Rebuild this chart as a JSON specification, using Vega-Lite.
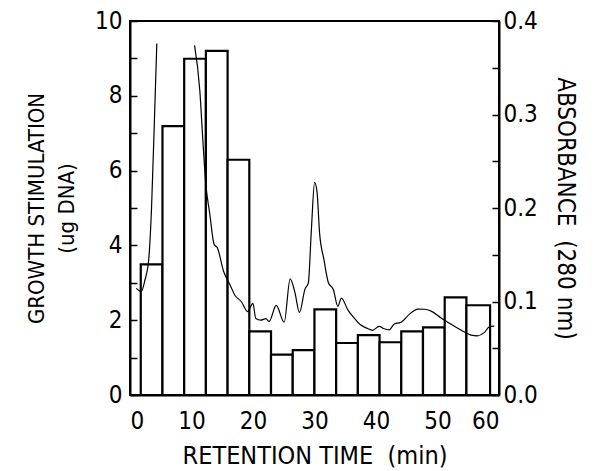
{
  "$schema": "https://vega.github.io/schema/vega-lite/v6.json",
  "autosize": {"type": "none"},
  "width": 369,
  "height": 374,
  "padding": {"left": 130, "top": 21, "right": 96, "bottom": 76},
  "background": "white",
  "config": {
    "view": {"stroke": "black", "strokeWidth": 2},
    "axis": {
      "labelFont": "DejaVu Sans Condensed, DejaVu Sans, sans-serif",
      "titleFont": "DejaVu Sans Condensed, DejaVu Sans, sans-serif",
      "labelFontSize": 24,
      "titleFontSize": 25,
      "titleFontWeight": "normal",
      "labelColor": "black",
      "titleColor": "black",
      "domainColor": "black",
      "domainWidth": 2,
      "tickColor": "black",
      "tickWidth": 1.5,
      "grid": false
    }
  },
  "datasets": {
    "bars": [
      {"start": 1.75, "end": 5.28, "growth": 3.49},
      {"start": 5.28, "end": 8.81, "growth": 7.19},
      {"start": 8.81, "end": 12.34, "growth": 8.99},
      {"start": 12.34, "end": 15.87, "growth": 9.2},
      {"start": 15.87, "end": 19.4, "growth": 6.29},
      {"start": 19.4, "end": 22.93, "growth": 1.7},
      {"start": 22.93, "end": 26.46, "growth": 1.08},
      {"start": 26.46, "end": 29.99, "growth": 1.2},
      {"start": 29.99, "end": 33.52, "growth": 2.29},
      {"start": 33.52, "end": 37.05, "growth": 1.39},
      {"start": 37.05, "end": 40.58, "growth": 1.6},
      {"start": 40.58, "end": 44.11, "growth": 1.41},
      {"start": 44.11, "end": 47.64, "growth": 1.7},
      {"start": 47.64, "end": 51.17, "growth": 1.81},
      {"start": 51.17, "end": 54.7, "growth": 2.61},
      {"start": 54.7, "end": 58.55, "growth": 2.4}
    ],
    "trace": [
      {"t": 1.04, "abs": 0.114, "seg": 1},
      {"t": 1.84, "abs": 0.1105, "seg": 1},
      {"t": 2.43, "abs": 0.123, "seg": 1},
      {"t": 3.04, "abs": 0.1446, "seg": 1},
      {"t": 3.51, "abs": 0.2014, "seg": 1},
      {"t": 4.04, "abs": 0.3085, "seg": 1},
      {"t": 4.36, "abs": 0.376, "seg": 1},
      {"t": 10.5, "abs": 0.374, "seg": 2},
      {"t": 11.35, "abs": 0.3257, "seg": 2},
      {"t": 11.85, "abs": 0.272, "seg": 2},
      {"t": 12.28, "abs": 0.229, "seg": 2},
      {"t": 12.98, "abs": 0.1933, "seg": 2},
      {"t": 13.68, "abs": 0.161, "seg": 2},
      {"t": 14.2, "abs": 0.1575, "seg": 2},
      {"t": 15.21, "abs": 0.1324, "seg": 2},
      {"t": 16.25, "abs": 0.118, "seg": 2},
      {"t": 17.03, "abs": 0.107, "seg": 2},
      {"t": 18.08, "abs": 0.1, "seg": 2},
      {"t": 19.14, "abs": 0.0892, "seg": 2},
      {"t": 19.98, "abs": 0.098, "seg": 2},
      {"t": 20.46, "abs": 0.0818, "seg": 2},
      {"t": 21.27, "abs": 0.08, "seg": 2},
      {"t": 22.09, "abs": 0.0817, "seg": 2},
      {"t": 22.63, "abs": 0.0787, "seg": 2},
      {"t": 23.77, "abs": 0.0958, "seg": 2},
      {"t": 25.07, "abs": 0.0778, "seg": 2},
      {"t": 26.04, "abs": 0.1242, "seg": 2},
      {"t": 26.81, "abs": 0.1098, "seg": 2},
      {"t": 27.55, "abs": 0.0883, "seg": 2},
      {"t": 28.45, "abs": 0.1132, "seg": 2},
      {"t": 29.0, "abs": 0.12, "seg": 2},
      {"t": 29.47, "abs": 0.1739, "seg": 2},
      {"t": 30.02, "abs": 0.2274, "seg": 2},
      {"t": 30.42, "abs": 0.2166, "seg": 2},
      {"t": 30.82, "abs": 0.1737, "seg": 2},
      {"t": 31.53, "abs": 0.145, "seg": 2},
      {"t": 32.26, "abs": 0.12, "seg": 2},
      {"t": 33.06, "abs": 0.1128, "seg": 2},
      {"t": 33.8, "abs": 0.0948, "seg": 2},
      {"t": 34.37, "abs": 0.1037, "seg": 2},
      {"t": 35.42, "abs": 0.0911, "seg": 2},
      {"t": 36.48, "abs": 0.0821, "seg": 2},
      {"t": 37.53, "abs": 0.0748, "seg": 2},
      {"t": 38.61, "abs": 0.0712, "seg": 2},
      {"t": 39.42, "abs": 0.0692, "seg": 2},
      {"t": 40.52, "abs": 0.0734, "seg": 2},
      {"t": 41.33, "abs": 0.0708, "seg": 2},
      {"t": 42.14, "abs": 0.0697, "seg": 2},
      {"t": 42.97, "abs": 0.076, "seg": 2},
      {"t": 44.05, "abs": 0.0777, "seg": 2},
      {"t": 45.45, "abs": 0.0865, "seg": 2},
      {"t": 46.82, "abs": 0.0918, "seg": 2},
      {"t": 47.91, "abs": 0.0917, "seg": 2},
      {"t": 48.98, "abs": 0.0897, "seg": 2},
      {"t": 50.58, "abs": 0.0824, "seg": 2},
      {"t": 52.19, "abs": 0.0758, "seg": 2},
      {"t": 53.79, "abs": 0.0696, "seg": 2},
      {"t": 55.42, "abs": 0.0641, "seg": 2},
      {"t": 56.49, "abs": 0.0633, "seg": 2},
      {"t": 57.59, "abs": 0.0667, "seg": 2},
      {"t": 58.43, "abs": 0.0729, "seg": 2},
      {"t": 59.24, "abs": 0.0737, "seg": 2}
    ]
  },
  "layer": [
    {
      "data": {"name": "bars"},
      "mark": {"type": "rect", "fill": "white", "stroke": "black", "strokeWidth": 2.2},
      "encoding": {
        "x": {
          "field": "start", "type": "quantitative",
          "scale": {"domain": [0, 60], "nice": false},
          "axis": {
            "title": "RETENTION TIME\u00a0\u00a0(min)",
            "values": [0, 10, 20, 30, 40, 50, 60],
            "ticks": false,
            "labelPadding": 14,
            "titlePadding": 10
          }
        },
        "x2": {"field": "end"},
        "y": {
          "field": "growth", "type": "quantitative",
          "scale": {"domain": [0, 10], "nice": false},
          "axis": {
            "orient": "left",
            "title": ["GROWTH STIMULATION", "(ug DNA)"],
            "titleFontSize": 22,
            "titleLineHeight": 30,
            "titlePadding": 16,
            "values": [0, 1, 2, 3, 4, 5, 6, 7, 8, 9, 10],
            "labelExpr": "datum.value % 2 == 0 ? datum.label : ''",
            "tickSize": -7,
            "labelPadding": 15
          }
        },
        "y2": {"datum": 0}
      }
    },
    {
      "data": {"name": "trace"},
      "mark": {"type": "line", "color": "black", "strokeWidth": 1.2, "interpolate": "monotone"},
      "encoding": {
        "x": {"field": "t", "type": "quantitative"},
        "y": {
          "field": "abs", "type": "quantitative",
          "scale": {"domain": [0, 0.4], "nice": false},
          "axis": {
            "orient": "right",
            "title": "ABSORBANCE\u00a0\u00a0(280 nm)",
            "titleFontSize": 24,
            "values": [0, 0.05, 0.1, 0.15, 0.2, 0.25, 0.3, 0.35, 0.4],
            "labelExpr": "(round(datum.value * 100) % 10 == 0) ? format(datum.value, '.1f') : ''",
            "tickSize": -7,
            "labelPadding": 11,
            "titlePadding": 15
          }
        },
        "detail": {"field": "seg"}
      }
    }
  ],
  "resolve": {"scale": {"y": "independent"}}
}
